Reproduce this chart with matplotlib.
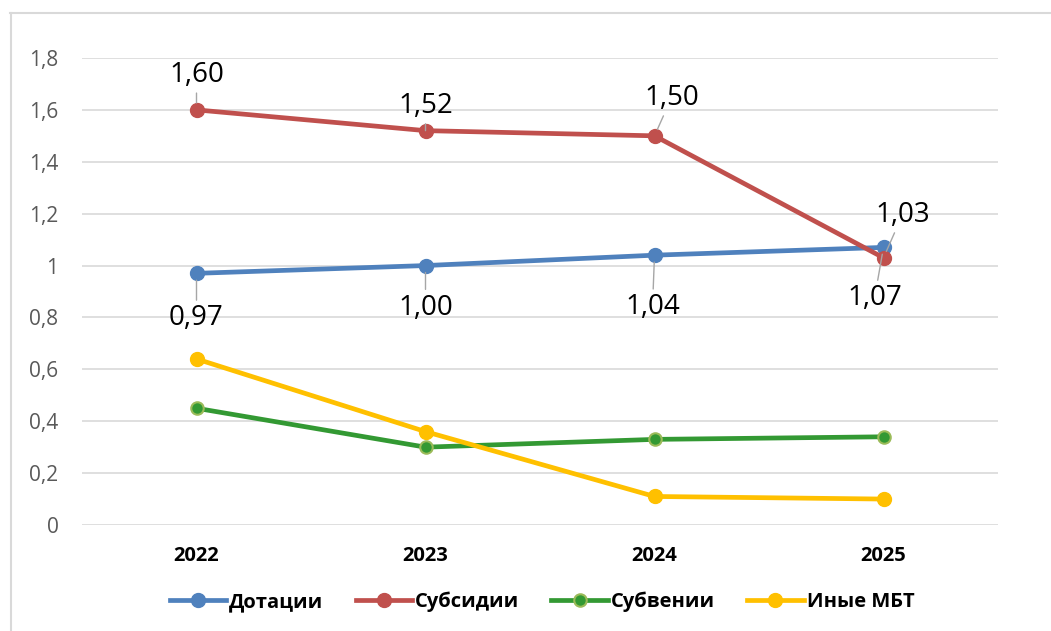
import matplotlib.pyplot as plt
from matplotlib.lines import Line2D
from matplotlib.ticker import FuncFormatter

years = ["2022", "2023", "2024", "2025"]
dotacii = [0.97, 1.00, 1.04, 1.07]
subsidii = [1.60, 1.52, 1.50, 1.03]
subvencii = [0.45, 0.30, 0.33, 0.34]
inye = [0.64, 0.36, 0.11, 0.10]

# label offsets in pixels (dx, dy) relative to the point
off_subs = [(0, 35), (0, 25), (17, 38), (19, 43)]
off_dot = [(0, -45), (0, -42), (-2, -52), (-9, -51)]

plt.rcParams['font.family'] = ['Open Sans', 'DejaVu Sans']

fig = plt.figure(figsize=(10.51, 6.31), dpi=100)
ax = fig.add_axes([82/1051, 1-525/631, (998-82)/1051, (525-58)/631])

x = list(range(len(years)))
ax.plot(x, dotacii, color='#4F81BD', lw=3.4, marker='o', ms=10, label='Дотации', clip_on=False, zorder=3)
ax.plot(x, subsidii, color='#C0504D', lw=3.4, marker='o', ms=10, label='Субсидии', clip_on=False, zorder=3)
ax.plot(x, subvencii, color='#339933', lw=3.4, marker='o', ms=9, mec='#9BBB59', mew=1.5,
        label='Субвении', clip_on=False, zorder=3)
ax.plot(x, inye, color='#FFC000', lw=3.4, marker='o', ms=10, label='Иные МБТ', clip_on=False, zorder=3)

def fmt(v):
    return f"{v:.2f}".replace('.', ',')

for vals, offs in ((subsidii, off_subs), (dotacii, off_dot)):
    for i, v in enumerate(vals):
        dx, dy = offs[i]
        ax.annotate(fmt(v), xy=(i, v), xytext=(dx*0.72, dy*0.72), textcoords='offset points',
                    ha='center', va='center', fontsize=20, color='black',
                    arrowprops=dict(arrowstyle='-', color='#A6A6A6', lw=1,
                                    shrinkA=1, shrinkB=5), zorder=4)

ax.set_xlim(-0.5, 3.5)
ax.set_ylim(0, 1.8)
ax.set_yticks([i*0.2 for i in range(10)])
ax.yaxis.set_major_formatter(FuncFormatter(lambda v, p: f"{round(v, 1):g}".replace('.', ',')))
ax.set_xticks(x)
ax.set_xticklabels(years, fontweight='bold', fontsize=14.5)
ax.tick_params(axis='y', length=0, pad=17, labelsize=15, labelcolor='#595959')
ax.tick_params(axis='x', length=0, pad=15)
ax.grid(axis='y', color='#D9D9D9', lw=1.2)
ax.set_axisbelow(True)
for s in ax.spines.values():
    s.set_visible(False)

leg = fig.legend(loc='center', bbox_to_anchor=(542/1051, 1-602/631), ncol=4, frameon=False,
                 prop={'weight': 'bold', 'size': 14.5}, handlelength=2.8, handletextpad=0.15,
                 columnspacing=1.6)

# chart frame
fig.add_artist(Line2D([10/1051, 1], [1-13/631, 1-13/631], color='#D9D9D9', lw=1.5))
fig.add_artist(Line2D([11/1051, 11/1051], [0, 1-13/631], color='#D9D9D9', lw=1.5))

fig.savefig('out.png', dpi=100)
